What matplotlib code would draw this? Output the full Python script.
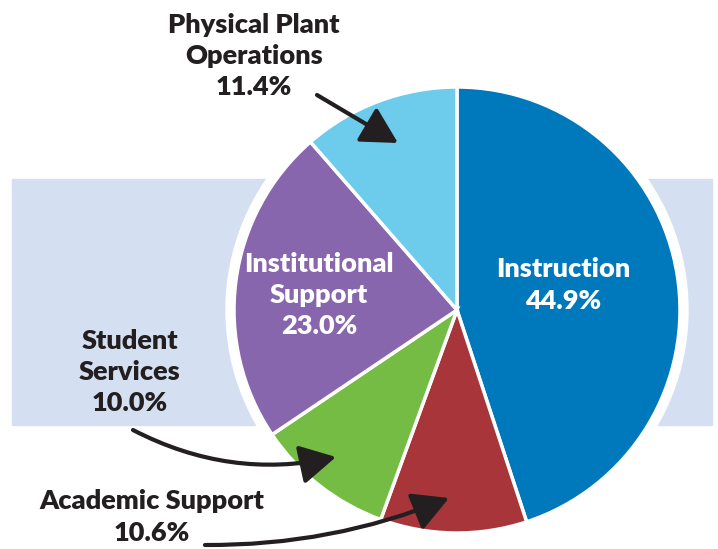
import matplotlib
matplotlib.use("Agg")
import matplotlib.pyplot as plt
from matplotlib.patches import Rectangle, Circle, FancyArrowPatch

categories = ["Instruction", "Academic Support", "Student Services",
              "Institutional Support", "Physical Plant Operations"]
values = [44.9, 10.6, 10.0, 23.0, 11.4]
colors = ["#0079BC", "#A8353A", "#74BC44", "#8866AD", "#6DCBEC"]

W, H = 718, 549
fig = plt.figure(figsize=(W / 100, H / 100), dpi=100)
ax = fig.add_axes([0, 0, 1, 1])
ax.set_xlim(0, W)
ax.set_ylim(0, H)
ax.set_aspect("equal")
ax.axis("off")

def Y(y):
    return H - y

cx, cy, r = 457, Y(310), 223

ax.add_patch(Rectangle((12, Y(425)), 700, 246, color="#D4E0F1", zorder=0))
ax.add_patch(Circle((cx, cy), r + 8, color="white", zorder=1))

wedges, _ = ax.pie(values, colors=colors, startangle=90, counterclock=False,
                   center=(cx, cy), radius=r, frame=True,
                   wedgeprops=dict(edgecolor="white", linewidth=2.5, zorder=2))
for w in wedges:
    w.set_zorder(2)
ax.set_xlim(0, W)
ax.set_ylim(0, H)
ax.axis("off")

fam = ["Lato", "DejaVu Sans"]
fs = 19.5
dark = "#231F20"

def lab(x, y, text, color):
    ax.text(x, Y(y), text, ha="center", va="center", fontsize=fs,
            fontweight="heavy", family=fam, color=color, linespacing=1.36, zorder=5)

lab(563, 285, f"{categories[0]}\n{values[0]:.1f}%", "white")
lab(319, 295, f"Institutional\nSupport\n{values[3]:.1f}%", "white")
lab(254, 56, f"Physical Plant\nOperations\n{values[4]:.1f}%", dark)
lab(130, 372, f"Student\nServices\n{values[2]:.1f}%", dark)
lab(152, 517, f"{categories[1]}\n{values[1]:.1f}%", dark)

def arrow(p0, p1, rad):
    a = FancyArrowPatch((p0[0], Y(p0[1])), (p1[0], Y(p1[1])),
                        connectionstyle=f"arc3,rad={rad}",
                        arrowstyle="-|>,head_length=1.1,head_width=0.6",
                        mutation_scale=20, lw=3, color=dark, zorder=6,
                        shrinkA=0, shrinkB=0)
    ax.add_patch(a)

arrow((317, 95), (398, 143), 0.0)
arrow((133, 430), (336, 457), 0.18)
arrow((205, 545), (449, 498), 0.1)

fig.savefig("out.png", dpi=100)
